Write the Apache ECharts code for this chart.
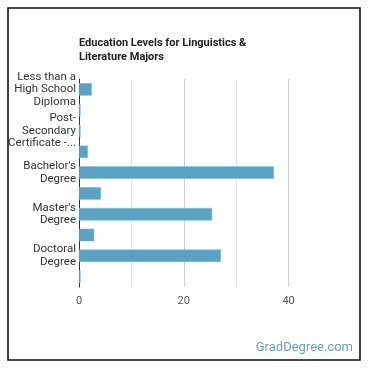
<!DOCTYPE html>
<html><head><meta charset="utf-8">
<script src="https://cdn.jsdelivr.net/npm/echarts@6/dist/echarts.min.js"></script>
<style>html,body{margin:0;padding:0;background:#fff}#c{width:370px;height:370px}</style>
</head><body><div id="c"></div>
<script>
var categories = ["Less than a High School Diploma","High School Diploma","Post-Secondary Certificate - Vocational","Associate's Degree","Bachelor's Degree","Post-Baccalaureate Certificate","Master's Degree","Post-Master's Certificate","Doctoral Degree","Post-Doctoral Training"];
var tickLabels = ["Less than a\nHigh School\nDiploma","","Post-\nSecondary\nCertificate -...","","Bachelor's\nDegree","","Master's\nDegree","","Doctoral\nDegree",""];
var values = [2.45,0.3,0.3,1.7,37.2,4.2,25.4,2.9,27.1,0.3];
var xTicks = [0,20,40];

var chart = echarts.init(document.getElementById('c'), null, {renderer:'canvas'});
chart.setOption({
  animation:false,
  title:{text:"Education Levels for Linguistics &\nLiterature Majors",left:79,top:36,padding:0,
    textStyle:{fontFamily:'Roboto',fontSize:11,fontWeight:'bold',color:'#222',lineHeight:14}},
  grid:{left:79,right:29,top:79,bottom:83,containLabel:false},
  xAxis:{type:'value',min:0,max:50,interval:10,
    axisLine:{show:false},axisTick:{show:false},
    splitLine:{show:true,lineStyle:{color:['#ccc','#e4e4e4','#ccc','#e4e4e4','#ccc','rgba(0,0,0,0)'],width:1}},
    axisLabel:{margin:9,fontFamily:'Roboto',fontSize:11,color:'#555',
      formatter:function(v){return xTicks.indexOf(v)>=0?String(v):'';}}},
  yAxis:{type:'category',inverse:true,data:categories,
    axisLine:{show:true,lineStyle:{color:'#333',width:1}},axisTick:{show:false},
    axisLabel:{interval:0,margin:3,fontFamily:'Roboto',fontSize:11.5,color:'#333',lineHeight:12.5,align:'right',
      formatter:function(v,i){return tickLabels[i];}}},
  series:[{type:'bar',data:values,barWidth:'60%',
    itemStyle:{color:'#5aa2c3',borderColor:'#7db8d2',borderWidth:0.5}}],
  graphic:[
    {type:'rect',shape:{x:8,y:8,width:352,height:352},style:{fill:'none',stroke:'#111',lineWidth:1.6},silent:true},
    {type:'text',right:17,top:341,style:{text:'GradDegree.com',font:'13px Roboto',fill:'#6b9fbf'}}
  ]
});
</script></body></html>
